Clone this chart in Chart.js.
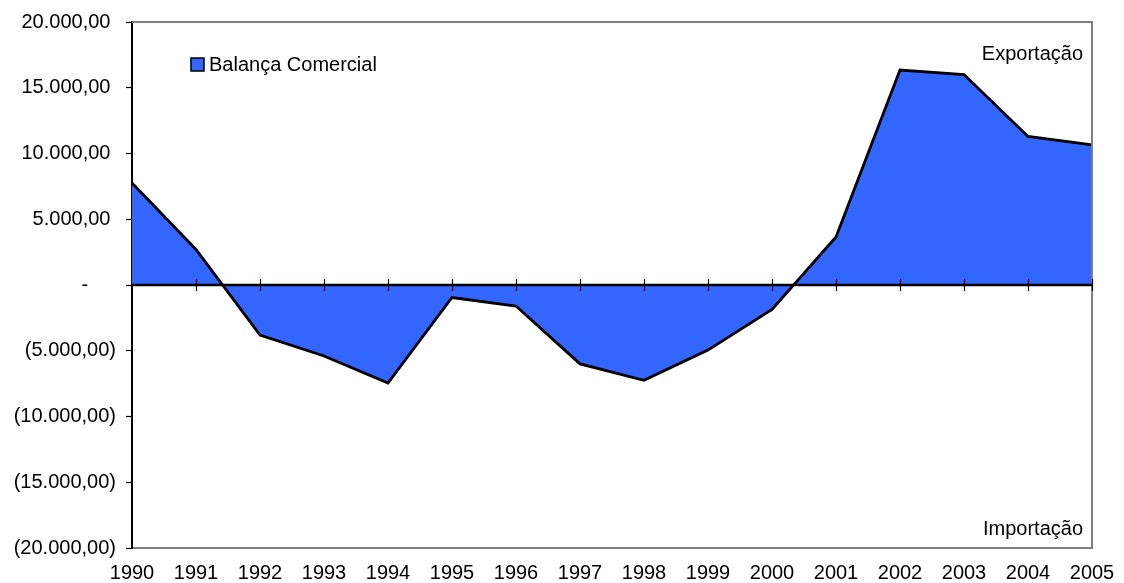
<!DOCTYPE html>
<html>
<head>
<meta charset="utf-8">
<script src="https://cdn.jsdelivr.net/npm/chart.js@4.4.1/dist/chart.umd.min.js"></script>
<style>
  html, body { margin: 0; padding: 0; background: #fff; }
  #wrap { width: 1124px; height: 583px; }
</style>
</head>
<body>
<div id="wrap"><canvas id="balancaChart"></canvas></div>
<script>
// dados
var anos = ["1990", "1991", "1992", "1993", "1994", "1995", "1996", "1997",
            "1998", "1999", "2000", "2001", "2002", "2003", "2004", "2005"];
var saldo = [7750, 2700, -3800, -5400, -7450, -950, -1600, -6000,
             -7250, -4950, -1850, 3650, 16350, 16000, 11300, 10650];
var yMin = -20000, yMax = 20000, yPasso = 5000;
var rotuloSerie = "Balança Comercial";
var rotuloTopo = "Exportação";
var rotuloBase = "Importação";

var fonte = "'Liberation Sans', Arial, sans-serif";
var azul = "#3366ff";

// formato tipo Excel: positivos com espaço no lugar do parêntese, zero como "-"
function formata(v) {
    if (v === 0) return "-     ";
    var n = Math.abs(v);
    var inteiro = Math.floor(n).toString().replace(/\B(?=(\d{3})+(?!\d))/g, ".");
    var s = inteiro + ",00";
    return v < 0 ? "(" + s + ")" : s + " ";
}

var extras = {
    id: "extras",
    afterDatasetsDraw: function (chart) {
        var ctx = chart.ctx, a = chart.chartArea;
        var x = chart.scales.x, y = chart.scales.y;
        ctx.save();
        // borda cinza topo e direita
        ctx.strokeStyle = "#808080";
        ctx.lineWidth = 2;
        ctx.beginPath();
        ctx.moveTo(a.left, a.top);
        ctx.lineTo(a.right, a.top);
        ctx.lineTo(a.right, a.bottom);
        ctx.stroke();
        // linha do zero com marcas
        var y0 = y.getPixelForValue(0);
        ctx.strokeStyle = "#000";
        ctx.lineWidth = 2.5;
        ctx.beginPath();
        ctx.moveTo(a.left, y0);
        ctx.lineTo(a.right, y0);
        ctx.stroke();
        ctx.lineWidth = 1.2;
        for (var i = 1; i < anos.length; i++) {
            var px = Math.round(x.getPixelForValue(i)) + 0.5;
            ctx.beginPath();
            ctx.moveTo(px, y0 - 6);
            ctx.lineTo(px, y0 + 6);
            ctx.stroke();
        }
        // legenda
        ctx.fillStyle = azul;
        ctx.fillRect(191, 58, 13, 13);
        ctx.strokeStyle = "#000";
        ctx.lineWidth = 1.5;
        ctx.strokeRect(191, 58, 13, 13);
        ctx.fillStyle = "#000";
        ctx.font = "20px " + fonte;
        ctx.textBaseline = "middle";
        ctx.textAlign = "left";
        ctx.fillText(rotuloSerie, 209, 65);
        ctx.textAlign = "right";
        ctx.fillText(rotuloTopo, a.right - 9, 54);
        ctx.fillText(rotuloBase, a.right - 9, 529);
        ctx.restore();
    }
};

var ctx = document.getElementById("balancaChart").getContext("2d");
var grafico = new Chart(ctx, {
    type: "line",
    data: {
        labels: anos,
        datasets: [{
            label: rotuloSerie,
            data: saldo,
            borderColor: "#000",
            borderWidth: 2.8,
            backgroundColor: azul,
            fill: "origin",
            tension: 0,
            pointRadius: 0
        }]
    },
    options: {
        responsive: true,
        maintainAspectRatio: false,
        animation: false,
        layout: { padding: { top: 22, right: 32, left: 0, bottom: 0 } },
        plugins: {
            legend: { display: false },
            tooltip: { enabled: false }
        },
        scales: {
            x: {
                offset: false,
                grid: { display: false },
                border: { display: true, color: "#808080", width: 2 },
                ticks: {
                    color: "#000",
                    font: { family: fonte, size: 20 },
                    padding: 5,
                    maxRotation: 0,
                    autoSkip: false
                },
                afterFit: function (s) { s.height = 35; }
            },
            y: {
                min: yMin,
                max: yMax,
                grid: {
                    drawOnChartArea: false,
                    drawTicks: true,
                    tickLength: 6,
                    tickColor: "#000",
                    tickWidth: 1.2
                },
                border: { display: true, color: "#000", width: 2 },
                ticks: {
                    stepSize: yPasso,
                    color: "#000",
                    padding: 10,
                    font: { family: fonte, size: 20 },
                    callback: function (v) { return formata(v); }
                },
                afterFit: function (s) { s.width = 132; }
            }
        }
    },
    plugins: [extras]
});
</script>
</body>
</html>
